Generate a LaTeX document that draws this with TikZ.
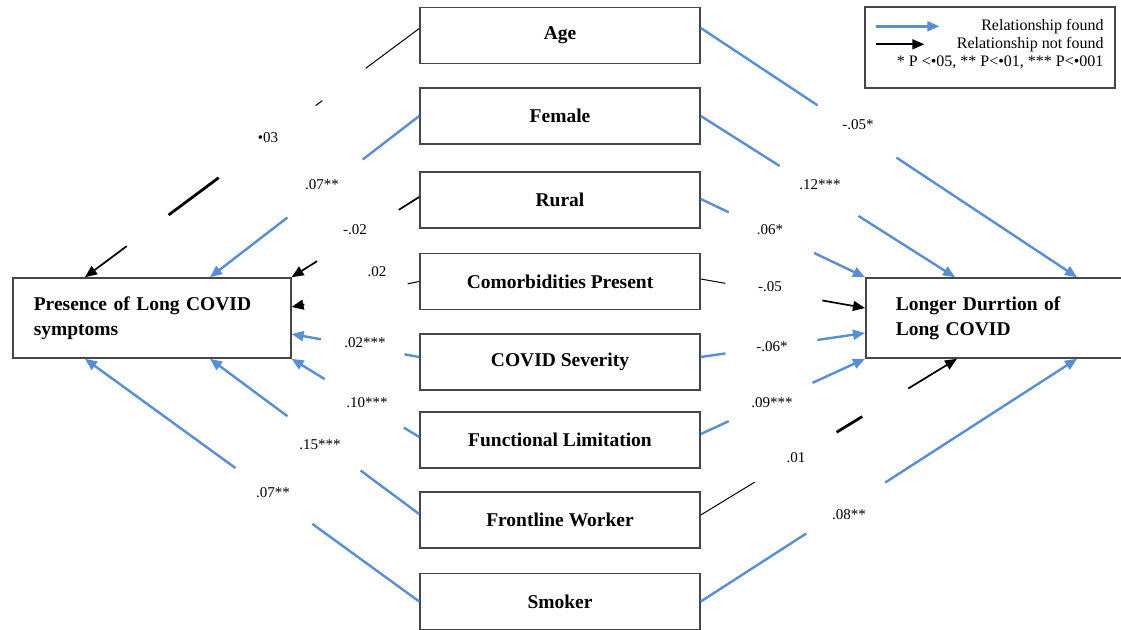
\documentclass[tikz,border=0pt]{standalone}
\usepackage{fontspec}
\setmainfont{Liberation Serif}
\usetikzlibrary{calc,arrows.meta}
\definecolor{relblue}{RGB}{88,142,210}
\definecolor{boxgray}{RGB}{70,70,70}
\newcommand\linkpart[5]{\draw[#1] ($(#2)!#3!(#5)$) -- ($(#2)!#4!(#5)$);}
\begin{document}
\begin{tikzpicture}[x=1pt,y=-1pt,
 varbox/.style={draw=boxgray,line width=1.6pt,fill=white,minimum width=280pt,minimum height=56pt,inner sep=0pt,font=\fontsize{19.5}{23}\selectfont\bfseries},
 outbox/.style={draw=boxgray,line width=1.6pt,fill=white,minimum height=80pt,font=\fontsize{19.5}{25}\selectfont\bfseries,align=left,anchor=west,inner xsep=21pt},
 found/.style={draw=relblue,line width=2.4pt},
 notfound/.style={draw=black,line width=1.7pt},
 thinnf/.style={draw=black,line width=1pt},
 thicknf/.style={draw=black,line width=2.8pt},
 tip/.style={-{Triangle[length=12pt,width=10pt]}},
 coef/.style={font=\fontsize{15}{17}\selectfont,inner sep=0pt}]
\useasboundingbox (0,0) rectangle (1121,629);
\clip (0,0) rectangle (1121,629);

% middle boxes
\node[varbox] (age) at (560,35.5) {Age};
\node[varbox] (fem) at (560,116) {Female};
\node[varbox] (rur) at (560,200) {Rural};
\node[varbox] (com) at (560,281.5) {Comorbidities Present};
\node[varbox] (sev) at (560,362) {COVID Severity};
\node[varbox] (fun) at (560,440) {Functional Limitation};
\node[varbox] (fro) at (560,520) {Frontline Worker};
\node[varbox] (smk) at (560,601.5) {Smoker};

% outcome boxes
\node[outbox,text width=236pt] (pres) at (12,318) {Presence of Long COVID\\symptoms};
\node[outbox,text width=230pt,inner xsep=30pt] (dur) at (865,318) {Longer Durrtion of\\Long COVID};

% left start / end points
\coordinate (sA) at ([yshift=7pt]age.west);
\coordinate (sF) at (fem.west);
\coordinate (sR) at ([yshift=3pt]rur.west);
\coordinate (sC) at (com.west);
\coordinate (sS) at ([yshift=5pt]sev.west);
\coordinate (sL) at ([yshift=3pt]fun.west);
\coordinate (sW) at ([yshift=6pt]fro.west);
\coordinate (sK) at (smk.west);
\coordinate (eA) at ([xshift=73pt]pres.north west);
\coordinate (eF) at ([xshift=198pt]pres.north west);
\coordinate (eR) at (pres.north east);
\coordinate (eC) at ([yshift=11pt]pres.east);
\coordinate (eS) at ([yshift=-16pt]pres.east);
\coordinate (eL) at (pres.south east);
\coordinate (eW) at ([xshift=198pt]pres.south west);
\coordinate (eK) at ([xshift=73pt]pres.south west);

% right start / end points
\coordinate (tA) at ([yshift=7.5pt]age.east);
\coordinate (tF) at (fem.east);
\coordinate (tR) at ([yshift=1pt]rur.east);
\coordinate (tC) at ([yshift=2.5pt]com.east);
\coordinate (tS) at ([yshift=5pt]sev.east);
\coordinate (tL) at ([yshift=6pt]fun.east);
\coordinate (tW) at ([yshift=5pt]fro.east);
\coordinate (tK) at (smk.east);
\coordinate (uA) at ([xshift=212pt]dur.north west);
\coordinate (uF) at ([xshift=90pt]dur.north west);
\coordinate (uR) at (dur.north west);
\coordinate (uC) at ([yshift=10pt]dur.west);
\coordinate (uS) at ([yshift=-15pt]dur.west);
\coordinate (uL) at (dur.south west);
\coordinate (uW) at ([xshift=92pt]dur.south west);
\coordinate (uK) at ([xshift=212pt]dur.south west);

% left connectors
\linkpart{thinnf}{sA}{0}{0.16}{eA}
\linkpart{thinnf}{sA}{0.29}{0.31}{eA}
\linkpart{thicknf}{sA}{0.60}{0.75}{eA}
\linkpart{notfound,tip}{sA}{0.875}{1}{eA}
\linkpart{found}{sF}{0}{0.27}{eF}
\linkpart{found,tip}{sF}{0.63}{1}{eF}
\linkpart{notfound}{sR}{0}{0.16}{eR}
\linkpart{notfound,tip}{sR}{0.8}{1}{eR}
\linkpart{thinnf}{sC}{0}{0.09}{eC}
\linkpart{notfound,tip}{sC}{0.9}{1}{eC}
\linkpart{found}{sS}{0}{0.115}{eS}
\linkpart{found,tip}{sS}{0.77}{1}{eS}
\linkpart{found}{sL}{0}{0.12}{eL}
\linkpart{found,tip}{sL}{0.74}{1}{eL}
\linkpart{found}{sW}{0}{0.28}{eW}
\linkpart{found,tip}{sW}{0.63}{1}{eW}
\linkpart{found}{sK}{0}{0.32}{eK}
\linkpart{found,tip}{sK}{0.55}{1}{eK}

% right connectors
\linkpart{found}{tA}{0}{0.31}{uA}
\linkpart{found,tip}{tA}{0.52}{1}{uA}
\linkpart{found}{tF}{0}{0.31}{uF}
\linkpart{found,tip}{tF}{0.62}{1}{uF}
\linkpart{found}{tR}{0}{0.17}{uR}
\linkpart{found,tip}{tR}{0.69}{1}{uR}
\linkpart{thinnf}{tC}{0}{0.15}{uC}
\linkpart{notfound,tip}{tC}{0.74}{1}{uC}
\linkpart{found}{tS}{0}{0.15}{uS}
\linkpart{found,tip}{tS}{0.71}{1}{uS}
\linkpart{found}{tL}{0}{0.17}{uL}
\linkpart{found,tip}{tL}{0.68}{1}{uL}
\linkpart{thinnf}{tW}{0}{0.21}{uW}
\linkpart{thicknf}{tW}{0.53}{0.63}{uW}
\linkpart{notfound,tip}{tW}{0.81}{1}{uW}
\linkpart{found}{tK}{0}{0.28}{uK}
\linkpart{found,tip}{tK}{0.49}{1}{uK}

% coefficient labels, left
\node[coef] (cA) at (268,138) {•03};
\node[coef] (cF) at (322,185) {.07**};
\node[coef] (cR) at (355,230) {-.02};
\node[coef] (cC) at (377,272) {.02};
\node[coef] (cS) at (365,343) {.02***};
\node[coef] (cL) at (367,403) {.10***};
\node[coef] (cW) at (320,445) {.15***};
\node[coef] (cK) at (273,493) {.07**};
% coefficient labels, right
\node[coef] (dA) at (858,125) {-.05*};
\node[coef] (dF) at (820,185) {.12***};
\node[coef] (dR) at (770,230) {.06*};
\node[coef] (dC) at (770,287) {-.05};
\node[coef] (dS) at (772,347) {-.06*};
\node[coef] (dL) at (772,403) {.09***};
\node[coef] (dW) at (796,458) {.01};
\node[coef] (dK) at (849,515) {.08**};

% legend
\node[draw=boxgray,line width=1.4pt,fill=white,minimum width=250pt,minimum height=81pt,inner sep=0pt] (leg) at (990,47.5) {};
\coordinate (lb1) at ([xshift=12pt,yshift=-20pt]leg.north west);
\coordinate (lb2) at ([xshift=75pt,yshift=-20pt]leg.north west);
\coordinate (lk1) at ([xshift=12pt,yshift=-38pt]leg.north west);
\coordinate (lk2) at ([xshift=60pt,yshift=-38pt]leg.north west);
\draw[found,tip] (lb1) -- (lb2);
\draw[notfound,tip] (lk1) -- (lk2);
\node[anchor=east,align=right,inner sep=0pt,font=\fontsize{16}{18}\selectfont] (legtxt) at ([xshift=-12pt,yshift=-38pt]leg.north east)
 {Relationship found\\Relationship not found\\* P <•05, ** P<•01, *** P<•001};
\end{tikzpicture}
\end{document}
